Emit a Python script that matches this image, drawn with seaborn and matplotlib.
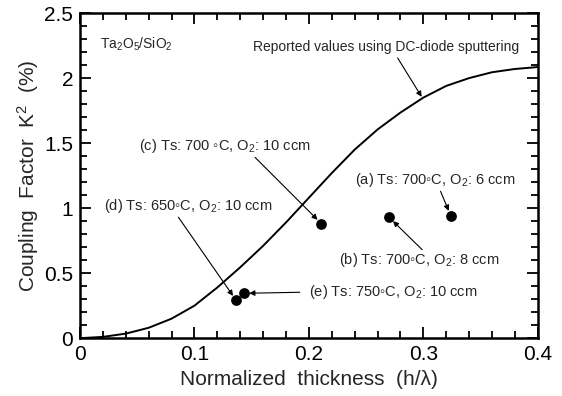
import numpy as np
import pandas as pd
import seaborn as sns
import matplotlib.pyplot as plt
from matplotlib.ticker import MultipleLocator

# reported curve (DC-diode sputtering)
curve_x = [0.0, 0.02, 0.04, 0.06, 0.08, 0.1, 0.12, 0.14, 0.16, 0.18, 0.2,
           0.22, 0.24, 0.26, 0.28, 0.3, 0.32, 0.34, 0.36, 0.38, 0.4]
curve_y = [0.0, 0.01, 0.035, 0.08, 0.15, 0.25, 0.39, 0.545, 0.71, 0.89, 1.08,
           1.27, 1.45, 1.605, 1.735, 1.85, 1.94, 2.0, 2.045, 2.07, 2.085]

# measured samples
sample_ids = ["a", "b", "c", "d", "e"]
sample_x = [0.324, 0.270, 0.211, 0.1365, 0.143]
sample_y = [0.94, 0.93, 0.88, 0.29, 0.345]
sample_labels = [
    "(a) Ts: 700\u25e6C, O$_2$: 6 ccm",
    "(b) Ts: 700\u25e6C, O$_2$: 8 ccm",
    "(c) Ts: 700 \u25e6C, O$_2$: 10 ccm",
    "(d) Ts: 650\u25e6C, O$_2$: 10 ccm",
    "(e) Ts: 750\u25e6C, O$_2$: 10 ccm",
]

sns.set_style("ticks")
plt.rcParams['font.family'] = ['Liberation Sans', 'DejaVu Sans']
plt.rcParams['mathtext.fontset'] = 'custom'
plt.rcParams['mathtext.rm'] = 'Liberation Sans'
plt.rcParams['mathtext.it'] = 'Liberation Sans'

fig, ax = plt.subplots(figsize=(5.62, 3.96), dpi=100)
fig.subplots_adjust(left=0.1423, right=0.957, top=0.967, bottom=0.146)

curve = pd.DataFrame({"x": curve_x, "y": curve_y})
sns.lineplot(data=curve, x="x", y="y", ax=ax, color="black", lw=1.4)

samples = pd.DataFrame({"x": sample_x, "y": sample_y, "id": sample_ids})
sns.scatterplot(data=samples, x="x", y="y", ax=ax, color="black", s=60,
                edgecolor="black", linewidth=0, zorder=5)

ax.set_xlim(0, 0.4)
ax.set_ylim(0, 2.5)
ax.xaxis.set_major_locator(MultipleLocator(0.1))
ax.xaxis.set_minor_locator(MultipleLocator(0.02))
ax.yaxis.set_major_locator(MultipleLocator(0.5))
ax.yaxis.set_minor_locator(MultipleLocator(0.1))
ax.set_xticks([0, 0.1, 0.2, 0.3, 0.4])
ax.set_xticklabels(["0", "0.1", "0.2", "0.3", "0.4"])
ax.set_yticks([0, 0.5, 1, 1.5, 2, 2.5])
ax.set_yticklabels(["0", "0.5", "1", "1.5", "2", "2.5"])
ax.tick_params(which="both", direction="in", top=True, right=True,
               width=1.3, labelsize=15, colors="black", pad=5)
ax.tick_params(which="major", length=8)
ax.tick_params(which="minor", length=5)
for sp in ax.spines.values():
    sp.set_visible(True)
    sp.set_linewidth(1.8)
    sp.set_color("black")

ax.set_xlabel("Normalized  thickness  (h/\u03bb)", fontsize=15, labelpad=4)
ax.set_ylabel("Coupling  Factor  K$^2$  (%)", fontsize=15, labelpad=2)

ax.text(0.0175, 2.26, "Ta$_2$O$_5$/SiO$_2$", fontsize=10, va="center")

arrow = dict(arrowstyle="-|>", color="black", lw=0.8, mutation_scale=8,
             shrinkA=0, shrinkB=4)
ax.text(0.2675, 2.24, "Reported values using DC-diode sputtering",
        fontsize=10, ha="center", va="center")
ax.annotate("", xy=(0.2985, 1.856), xytext=(0.2775, 2.155),
            arrowprops=dict(arrow, shrinkB=0))

# label positions and arrow tails per sample
label_pos = [(0.310, 1.22), (0.296, 0.6), (0.127, 1.48), (0.095, 1.02), (0.274, 0.353)]
tail_pos = [(0.315, 1.13), (0.299, 0.68), (0.153, 1.39), (0.086, 0.93), (0.192, 0.353)]
for lab, (lx, ly), (tx, ty), px, py in zip(sample_labels, label_pos, tail_pos,
                                            sample_x, sample_y):
    ax.text(lx, ly, lab, fontsize=10.5, ha="center", va="center")
    ax.annotate("", xy=(px, py), xytext=(tx, ty), arrowprops=arrow)

fig.savefig("out.png", dpi=100)
